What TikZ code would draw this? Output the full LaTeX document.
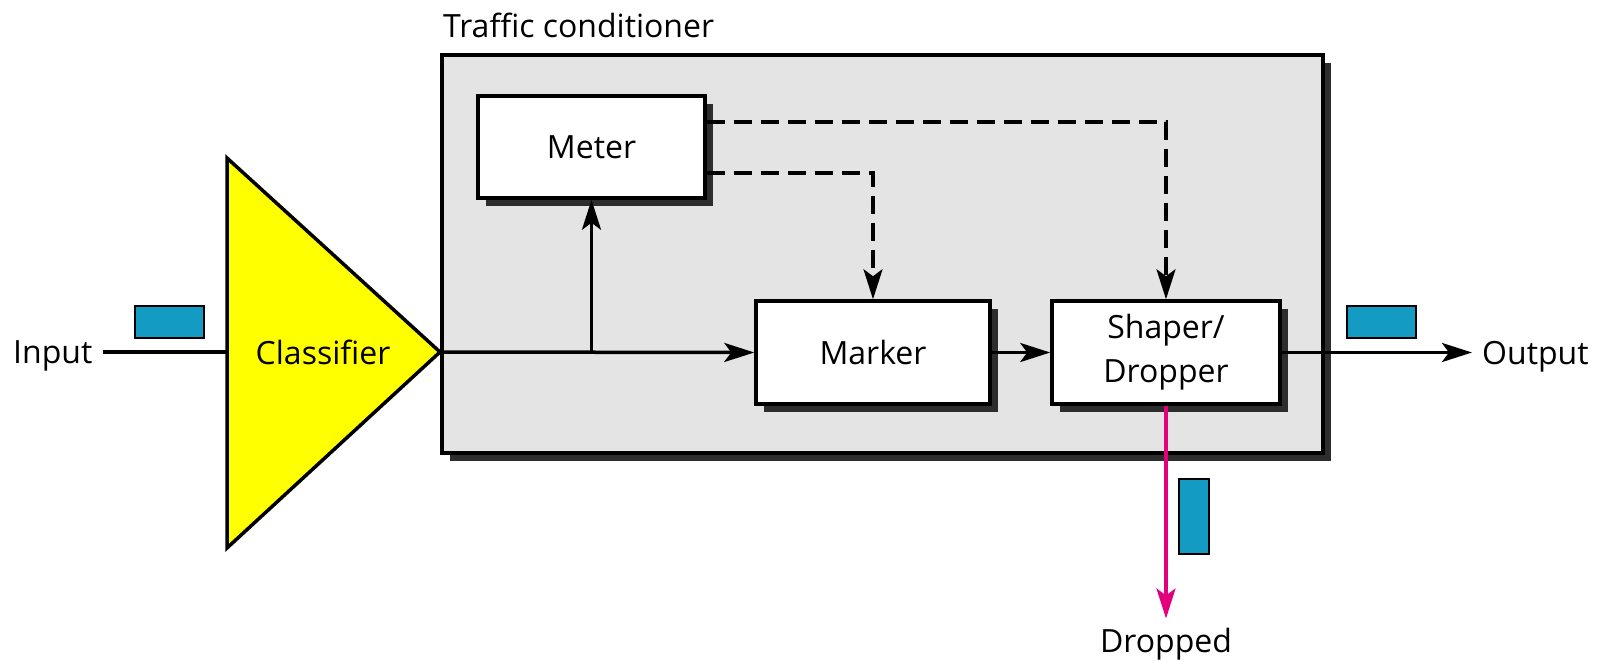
\documentclass[tikz,border=0pt]{standalone}
\usepackage{fontspec}
\setmainfont{Open Sans}
\usetikzlibrary{arrows.meta, positioning, shadows}

\definecolor{panelgray}{RGB}{228,228,228}
\definecolor{shadowgray}{RGB}{45,45,45}
\definecolor{packetblue}{RGB}{20,155,195}
\definecolor{dropmagenta}{RGB}{228,0,124}
\definecolor{classyellow}{RGB}{255,255,0}

\begin{document}
\begin{tikzpicture}[
    x=1pt, y=-1pt,
    font=\fontsize{32}{38}\selectfont,
    block/.style={draw, line width=3.5pt, fill=white, align=center, inner sep=0pt,
      drop shadow={shadow xshift=8pt, shadow yshift=-8pt, opacity=1, fill=shadowgray}},
    packet/.style={draw, line width=2.5pt, fill=packetblue, inner sep=0pt},
    flow/.style={line width=3.5pt, -{Stealth[length=30pt, width=19pt, inset=7pt]}},
    signal/.style={flow, dash pattern=on 18pt off 9pt},
  ]
  \useasboundingbox (0,0) rectangle (1612,661);

  % traffic conditioner panel
  \node[block, fill=panelgray, minimum width=881pt, minimum height=398pt] (tc) at (882.5,254) {};
  \node[anchor=base west, inner sep=0pt] (tclabel) at (443,38) {Traffic conditioner};

  \node[block, minimum width=227pt, minimum height=102pt] (meter) at (591.5,147) {Meter};
  \node[block, minimum width=234pt, minimum height=103pt] (marker) at (873,352.5) {Marker};
  \node[block, minimum width=228pt, minimum height=103pt, font=\fontsize{32}{44}\selectfont] (shaper) at (1166,352.5) {Shaper/\\Dropper};

  % classifier
  \draw[line width=3.5pt, fill=classyellow, line join=miter] (227,158) -- (440,352) -- (227,548) -- cycle;
  \coordinate (clsin) at (227,352);
  \coordinate (clsout) at (440,352);
  \node (classifier) at (323,352) {Classifier};

  \node[anchor=base west, inner xsep=10pt, inner ysep=0pt] (input) at (3,363) {Input};
  \node[anchor=base west, inner xsep=10pt, inner ysep=0pt] (output) at (1472,364) {Output};
  \node[anchor=base, inner xsep=0pt, inner ysep=9pt] (dropped) at (1166,652) {Dropped};

  % packets
  \node[packet, minimum width=69pt, minimum height=32pt] (inpkt) at (169.5,322) {};
  \node[packet, minimum width=69pt, minimum height=32pt] (outpkt) at (1381.5,322) {};
  \node[packet, minimum width=30pt, minimum height=75pt] (droppkt) at (1194,516.5) {};

  \coordinate (split) at (meter.south |- clsout);
  \draw[line width=3.5pt] (input.east |- clsin) -- (clsin);
  \draw[flow] (clsout) -- (marker.west);
  \draw[flow] (split) -- (meter.south);
  \draw[flow] (marker) -- (shaper);
  \draw[flow] (shaper.east) -- (output.west |- shaper.east);
  \draw[signal] ([yshift=25pt]meter.east) -| (shaper.north);
  \draw[signal] ([yshift=-26pt]meter.east) -| (marker.north);
  \draw[flow, draw=dropmagenta] (shaper.south) -- (dropped.north);
\end{tikzpicture}
\end{document}
